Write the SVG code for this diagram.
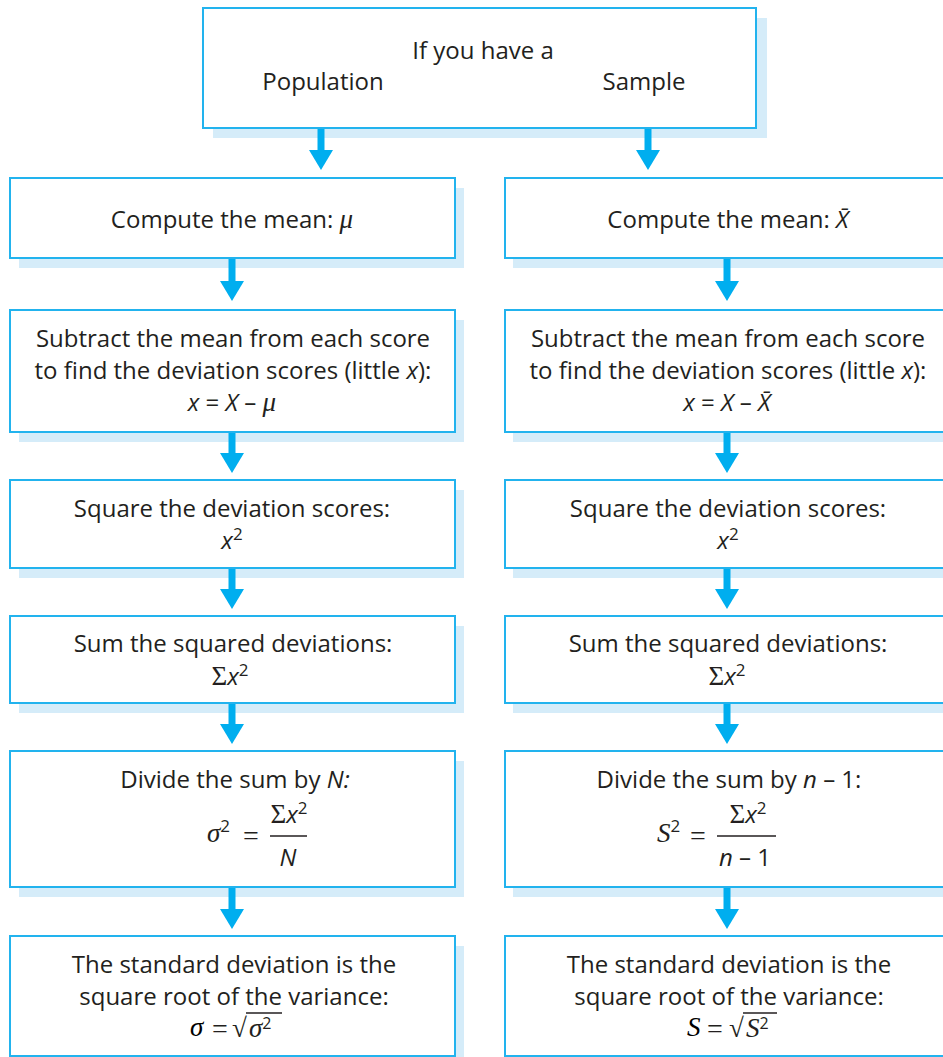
<svg xmlns="http://www.w3.org/2000/svg" width="943" height="1057" viewBox="0 0 943 1057">
<defs>
<style>
.shadow{fill:#d5ecf9;stroke:none}
.box{fill:#ffffff;stroke:#22b3ee;stroke-width:2}
.t{font-family:"Open Sans","Noto Sans",sans-serif;font-size:24px;fill:#231f20;text-anchor:middle}
.f{font-family:"Open Sans","Noto Sans",sans-serif;font-size:24px;fill:#231f20}
.fm{font-family:"Open Sans","Noto Sans",sans-serif;font-size:24px;fill:#231f20;text-anchor:middle}
.s{font-family:"Liberation Serif",serif;font-size:27px}
.si{font-family:"Liberation Serif",serif;font-size:27px;font-style:italic}
.it{font-style:italic}
.sup{font-family:"Open Sans","Noto Sans",sans-serif;font-size:17px;font-style:normal}
.sup2{font-family:"Open Sans","Noto Sans",sans-serif;font-size:16px;font-style:normal}
.eq{font-family:"Liberation Serif",serif;font-size:28px;fill:#231f20}
.rad{font-family:"Liberation Serif",serif;font-size:27px;fill:#231f20}
.rule{stroke:#231f20;stroke-width:1.3}
.arrow{stroke:#00aeef;stroke-width:7;fill:none;marker-end:url(#head)}
</style>
<marker id="head" markerUnits="userSpaceOnUse" markerWidth="24" markerHeight="20" refX="12" refY="0" orient="0" overflow="visible">
<path d="M0,0 L24,0 L12,20 Z" fill="#00aeef"/>
</marker>
</defs>
<rect width="943" height="1057" fill="#ffffff"/>

<g id="top">
<rect class="shadow" x="213" y="18" width="554" height="120"/>
<rect class="box" x="203" y="8" width="553" height="120"/>
<text class="t" x="483" y="59">If you have a</text>
<text class="t" x="323" y="90">Population</text>
<text class="t" x="644" y="90">Sample</text>
</g>

<g id="pop-mean">
<rect class="shadow" x="19" y="188" width="445" height="80"/>
<rect class="box" x="10" y="178" width="445" height="80"/>
<text class="t" x="232" y="228">Compute the mean: <tspan class="si">μ</tspan></text>
</g>
<g id="samp-mean">
<rect class="shadow" x="513" y="188" width="445" height="80"/>
<rect class="box" x="505" y="178" width="445" height="80"/>
<text class="t" x="728" y="228">Compute the mean: <tspan class="it">X̄</tspan></text>
</g>

<g id="pop-dev">
<rect class="shadow" x="19" y="320" width="445" height="122"/>
<rect class="box" x="10" y="310" width="445" height="122"/>
<text class="t" x="233" y="347">Subtract the mean from each score</text>
<text class="t" x="233" y="379">to find the deviation scores (little <tspan class="it">x</tspan>):</text>
<text class="t" x="232" y="411"><tspan class="it">x</tspan> = <tspan class="it">X</tspan> – <tspan class="si">μ</tspan></text>
</g>
<g id="samp-dev">
<rect class="shadow" x="513" y="320" width="445" height="122"/>
<rect class="box" x="505" y="310" width="445" height="122"/>
<text class="t" x="728" y="347">Subtract the mean from each score</text>
<text class="t" x="728" y="379">to find the deviation scores (little <tspan class="it">x</tspan>):</text>
<text class="t" x="727" y="411"><tspan class="it">x</tspan> = <tspan class="it">X</tspan> – <tspan class="it">X̄</tspan></text>
</g>

<g id="pop-square">
<rect class="shadow" x="19" y="490" width="445" height="88"/>
<rect class="box" x="10" y="480" width="445" height="88"/>
<text class="t" x="232" y="517">Square the deviation scores:</text>
<text class="fm" x="232" y="549"><tspan class="it">x</tspan><tspan class="sup" dy="-9">2</tspan></text>
</g>
<g id="samp-square">
<rect class="shadow" x="513" y="490" width="445" height="88"/>
<rect class="box" x="505" y="480" width="445" height="88"/>
<text class="t" x="728" y="517">Square the deviation scores:</text>
<text class="fm" x="728" y="549"><tspan class="it">x</tspan><tspan class="sup" dy="-9">2</tspan></text>
</g>

<g id="pop-sum">
<rect class="shadow" x="19" y="626" width="445" height="87"/>
<rect class="box" x="10" y="616" width="445" height="87"/>
<text class="t" x="233" y="652">Sum the squared deviations:</text>
<text class="fm" x="230" y="685"><tspan class="s">Σ</tspan><tspan class="it">x</tspan><tspan class="sup" dy="-9">2</tspan></text>
</g>
<g id="samp-sum">
<rect class="shadow" x="513" y="626" width="445" height="87"/>
<rect class="box" x="505" y="616" width="445" height="87"/>
<text class="t" x="728" y="652">Sum the squared deviations:</text>
<text class="fm" x="727" y="685"><tspan class="s">Σ</tspan><tspan class="it">x</tspan><tspan class="sup" dy="-9">2</tspan></text>
</g>

<g id="pop-var">
<rect class="shadow" x="19" y="761" width="445" height="136"/>
<rect class="box" x="10" y="751" width="445" height="136"/>
<text class="t" x="235" y="788">Divide the sum by <tspan class="it">N:</tspan></text>
<text class="f" x="207" y="842"><tspan class="si">σ</tspan><tspan class="sup" dy="-10">2</tspan></text>
<text class="eq" x="243" y="845">=</text>
<text class="fm" x="289" y="823"><tspan class="s">Σ</tspan><tspan class="it">x</tspan><tspan class="sup" dy="-9">2</tspan></text>
<line class="rule" x1="270" y1="836" x2="307" y2="836"/>
<text class="fm" x="288" y="866"><tspan class="it">N</tspan></text>
</g>
<g id="samp-var">
<rect class="shadow" x="513" y="761" width="445" height="136"/>
<rect class="box" x="505" y="751" width="445" height="136"/>
<text class="t" x="729" y="788">Divide the sum by <tspan class="it">n</tspan> – 1:</text>
<text class="f" x="657" y="842"><tspan class="si">S</tspan><tspan class="sup" dy="-10">2</tspan></text>
<text class="eq" x="690" y="845">=</text>
<text class="fm" x="748" y="823"><tspan class="s">Σ</tspan><tspan class="it">x</tspan><tspan class="sup" dy="-9">2</tspan></text>
<line class="rule" x1="717" y1="836" x2="776" y2="836"/>
<text class="fm" x="745" y="866"><tspan class="it">n</tspan> – 1</text>
</g>

<g id="pop-sd">
<rect class="shadow" x="19" y="946" width="445" height="120"/>
<rect class="box" x="10" y="936" width="445" height="120"/>
<text class="t" x="234" y="973">The standard deviation is the</text>
<text class="t" x="234" y="1005">square root of the variance:</text>
<text class="si" x="190" y="1036">σ</text>
<text class="eq" x="212" y="1038">=</text>
<text class="rad" x="232" y="1037">√</text>
<line class="rule" x1="246" y1="1013" x2="282" y2="1013"/>
<text class="f" x="249" y="1037"><tspan class="si">σ</tspan><tspan class="sup2" dy="-8">2</tspan></text>
</g>
<g id="samp-sd">
<rect class="shadow" x="513" y="946" width="445" height="120"/>
<rect class="box" x="505" y="936" width="445" height="120"/>
<text class="t" x="729" y="973">The standard deviation is the</text>
<text class="t" x="729" y="1005">square root of the variance:</text>
<text class="si" x="687" y="1036">S</text>
<text class="eq" x="707" y="1038">=</text>
<text class="rad" x="729" y="1037">√</text>
<line class="rule" x1="743" y1="1013" x2="777" y2="1013"/>
<text class="f" x="746" y="1037"><tspan class="si">S</tspan><tspan class="sup2" dy="-8">2</tspan></text>
</g>

<g id="connectors">
<line class="arrow" x1="321" y1="129" x2="321" y2="150"/>
<line class="arrow" x1="648" y1="129" x2="648" y2="150"/>
<line class="arrow" x1="232" y1="259" x2="232" y2="281"/>
<line class="arrow" x1="727" y1="259" x2="727" y2="281"/>
<line class="arrow" x1="232" y1="433" x2="232" y2="453"/>
<line class="arrow" x1="727" y1="433" x2="727" y2="453"/>
<line class="arrow" x1="232" y1="569" x2="232" y2="589"/>
<line class="arrow" x1="727" y1="569" x2="727" y2="589"/>
<line class="arrow" x1="232" y1="704" x2="232" y2="724"/>
<line class="arrow" x1="727" y1="704" x2="727" y2="724"/>
<line class="arrow" x1="232" y1="888" x2="232" y2="909"/>
<line class="arrow" x1="727" y1="888" x2="727" y2="909"/>
</g>
</svg>
